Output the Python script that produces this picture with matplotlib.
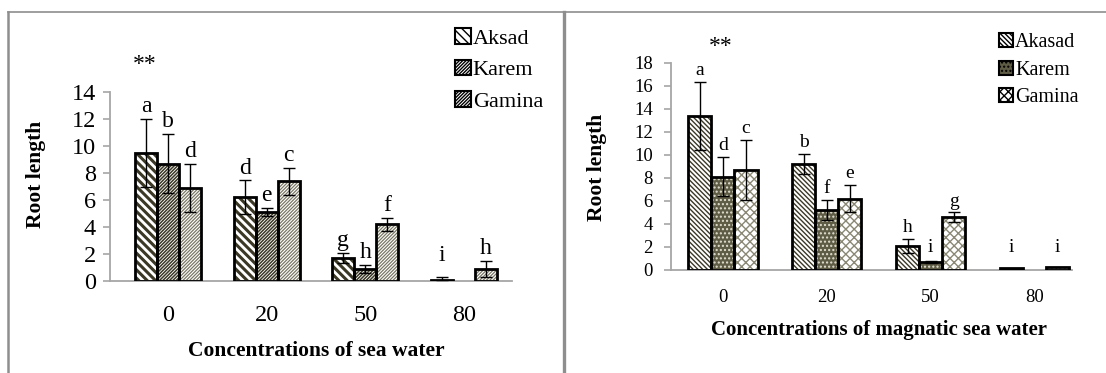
import numpy as np
import matplotlib
matplotlib.use('Agg')
import matplotlib.pyplot as plt
from matplotlib.patches import Patch
from matplotlib.lines import Line2D

plt.rcParams['font.family'] = ['Liberation Serif', 'DejaVu Serif']
plt.rcParams['hatch.linewidth'] = 1.0

categories = ['0', '20', '50', '80']

# left chart: sea water
left_series = ['Aksad', 'Karem', 'Gamina']
left_means = [[9.5, 6.2, 1.7, 0.1],
              [8.7, 5.1, 0.9, 0.0],
              [6.9, 7.4, 4.2, 0.9]]
left_errs = [[2.5, 1.25, 0.4, 0.2],
             [2.2, 0.3, 0.3, 0.0],
             [1.8, 1.0, 0.5, 0.6]]
left_letters = [['a', 'd', 'g', 'i'],
                ['b', 'e', 'h', ''],
                ['d', 'c', 'f', 'h']]

# right chart: magnatic sea water
right_series = ['Akasad', 'Karem', 'Gamina']
right_means = [[13.4, 9.2, 2.1, 0.2],
               [8.1, 5.2, 0.7, 0.0],
               [8.7, 6.2, 4.6, 0.3]]
right_errs = [[2.95, 0.9, 0.6, 0.0],
              [1.7, 0.9, 0.1, 0.0],
              [2.6, 1.2, 0.4, 0.0]]
right_letters = [['a', 'b', 'h', 'i'],
                 ['d', 'f', 'i', ''],
                 ['c', 'e', 'g', 'i']]

W, H = 1106, 373
fig = plt.figure(figsize=(W / 100, H / 100), dpi=100)


def px_axes(x0, x1, ytop, ybot):
    return fig.add_axes([x0 / W, 1 - ybot / H, (x1 - x0) / W, (ybot - ytop) / H])


def draw_panel(ax, series, means, errs, letters, styles, ymax, step, xlim,
               tick_fs, letter_fs, pad_x, pad_y, letter_pad, width):
    x = np.arange(len(categories))
    for i, name in enumerate(series):
        face, hcol, hatch, hlw = styles[i]
        off = (i - 1) * width
        m = np.array(means[i])
        e = np.array(errs[i])
        keep = m > 0
        fill = ax.bar(x[keep] + off, m[keep], width, color=face, edgecolor=hcol,
                      hatch=hatch, linewidth=0, zorder=2)
        for b in fill:
            if hasattr(b, 'set_hatch_linewidth'):
                b.set_hatch_linewidth(hlw)
        ax.bar(x[keep] + off, m[keep], width, fill=False, edgecolor='black',
               linewidth=2.0, zorder=3)
        ek = keep & (e > 0)
        ax.errorbar(x[ek] + off, m[ek], yerr=e[ek], fmt='none', ecolor='black',
                    elinewidth=1.0, capsize=4.5, capthick=1.0, zorder=4)
        for j in range(len(categories)):
            if letters[i][j]:
                top = max(m[j] + e[j], 1.0)
                ax.text(x[j] + off, top + letter_pad, letters[i][j], ha='center',
                        va='baseline', fontsize=letter_fs)
    ax.set_xlim(*xlim)
    ax.set_ylim(0, ymax)
    ax.set_yticks(np.arange(0, ymax + 0.1, step))
    ax.set_xticks(x)
    ax.set_xticklabels(categories)
    for s in ['top', 'right']:
        ax.spines[s].set_visible(False)
    for s in ['left', 'bottom']:
        ax.spines[s].set_color('#a6a6a6')
        ax.spines[s].set_linewidth(1.3)
    ax.tick_params(axis='x', length=0, labelsize=tick_fs, pad=pad_x)
    ax.tick_params(axis='y', length=5, width=1.2, color='#a6a6a6',
                   labelsize=tick_fs, pad=pad_y)
    ax.patch.set_alpha(0)


hc = '#3b3826'
left_styles = [('white', hc, '\\\\\\\\', 2.2),
               ('white', hc, '//////////', 1.1),
               ('white', '#7a7764', '//////////', 0.9)]
right_styles = [('white', hc, '\\\\\\\\\\\\\\', 1.0),
                ('#5f5c46', '#e2e0d0', '....', 1.0),
                ('white', '#8a8874', 'xxxx', 1.0)]

axL = px_axes(110, 512, 92, 281)
draw_panel(axL, left_series, left_means, left_errs, left_letters, left_styles,
           14, 2, (-0.59, 3.49), 17.5, 17, 17, 5, 0.5, 0.223)

axR = px_axes(671, 1072, 62.7, 270)
draw_panel(axR, right_series, right_means, right_errs, right_letters, right_styles,
           18, 2, (-0.5, 3.36), 13.5, 14, 14, 8, 0.6, 0.222)

# axis titles
fig.text(36 / W, 1 - 174 / H, 'Root length', rotation=90, ha='center', va='center',
         fontsize=15.5, fontweight='bold')
fig.text(316 / W, 1 - 351 / H, 'Concentrations of sea water', ha='center', va='center',
         fontsize=15.5, fontweight='bold')
fig.text(597 / W, 1 - 167 / H, 'Root length', rotation=90, ha='center', va='center',
         fontsize=15.5, fontweight='bold')
fig.text(879 / W, 1 - 330 / H, 'Concentrations of magnatic sea water', ha='center',
         va='center', fontsize=15, fontweight='bold')
fig.text(145 / W, 1 - 64 / H, '**', ha='center', va='center', fontsize=17)
fig.text(721 / W, 1 - 46 / H, '**', ha='center', va='center', fontsize=17)

# legends
def legend_for(series, styles, x, y, fs, gap):
    handles = [Patch(facecolor=st[0], edgecolor='black', hatch=st[2], linewidth=1.5)
               for st in styles]
    fig.legend(handles, series, loc='upper left', bbox_to_anchor=(x / W, 1 - y / H),
               frameon=False, fontsize=fs, handlelength=0.7, handleheight=0.7,
               handletextpad=0.1, labelspacing=gap, borderaxespad=0, borderpad=0)


legend_for(left_series, left_styles, 455, 28, 16, 0.5)
legend_for(right_series, right_styles, 999, 33, 14.5, 0.42)

# panel frames
fig.add_artist(Line2D([7.5 / W, 1], [1 - 12 / H, 1 - 12 / H], color='#8e8e8e', lw=1.2))
fig.add_artist(Line2D([7.5 / W, 7.5 / W], [0, 1 - 12 / H], color='#8e8e8e', lw=1.8))
fig.add_artist(Line2D([563.5 / W, 563.5 / W], [0, 1 - 12 / H], color='#8e8e8e', lw=2.4))

fig.savefig('out.png', dpi=100)
